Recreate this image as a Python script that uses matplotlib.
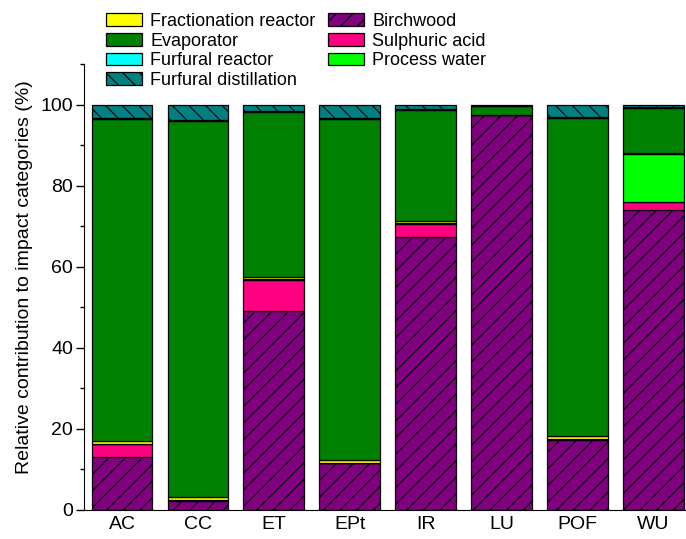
import numpy as np
import matplotlib
matplotlib.use("Agg")
import matplotlib.pyplot as plt
from matplotlib.ticker import MultipleLocator

# ----------------------------
# Daten (Anteile in %)
# ----------------------------
categories = ["AC", "CC", "ET", "EPt", "IR", "LU", "POF", "WU"]

birchwood = [13.0, 2.3, 49.0, 11.5, 67.4, 97.3, 17.2, 74.1]
sulphuric_acid = [3.2, 0.2, 7.8, 0.1, 3.2, 0.1, 0.3, 1.9]
process_water = [0.1, 0.0, 0.1, 0.0, 0.1, 0.0, 0.0, 11.9]
fractionation_reactor = [0.7, 0.8, 0.6, 0.7, 0.5, 0.1, 0.8, 0.2]
evaporator = [79.5, 92.7, 40.7, 84.2, 27.5, 2.1, 78.4, 11.1]
furfural_reactor = [0.2, 0.2, 0.2, 0.2, 0.2, 0.0, 0.2, 0.2]
furfural_distillation = [3.3, 3.8, 1.6, 3.3, 1.1, 0.4, 3.1, 0.6]

# Reihenfolge von unten nach oben
stack = [
    ("Birchwood", birchwood, "#800080", "//"),
    ("Sulphuric acid", sulphuric_acid, "#FF0080", None),
    ("Process water", process_water, "#00FF00", None),
    ("Fractionation reactor", fractionation_reactor, "#FFFF00", None),
    ("Evaporator", evaporator, "#008000", None),
    ("Furfural reactor", furfural_reactor, "#00FFFF", None),
    ("Furfural distillation", furfural_distillation, "#008080", "\\\\"),
]

plt.rcParams["font.family"] = ["Liberation Sans", "DejaVu Sans"]
plt.rcParams["hatch.linewidth"] = 0.8

fig = plt.figure(figsize=(6.86, 5.39), dpi=100)
ax = fig.add_axes([84 / 686, 29 / 539, 1 - 84 / 686, (510 - 64) / 539])

x = np.arange(len(categories))
bottom = np.zeros(len(categories))
handles = {}
for name, vals, color, hatch in stack:
    vals = np.array(vals)
    b = ax.bar(x, vals, width=0.8, bottom=bottom, color=color,
               edgecolor="black", linewidth=0.9, hatch=hatch, label=name)
    handles[name] = b
    bottom += vals

ax.set_xlim(-0.5, 7.43)
ax.set_ylim(0, 110)
ax.yaxis.set_major_locator(MultipleLocator(20))
ax.yaxis.set_minor_locator(MultipleLocator(10))
ax.set_xticks(x)
ax.set_xticklabels(categories)
ax.tick_params(axis="x", length=0, pad=4, labelsize=14)
ax.tick_params(axis="y", which="major", length=6, width=1, pad=2, labelsize=14)
ax.tick_params(axis="y", which="minor", length=3, width=1)
ax.spines["top"].set_visible(False)
ax.spines["right"].set_visible(False)
ax.set_ylabel("Relative contribution to impact categories (%)", fontsize=14)
ax.yaxis.set_label_coords(-0.085, 0.522)

# Legende in zwei Spalten
order = ["Fractionation reactor", "Evaporator", "Furfural reactor",
         "Furfural distillation", "Birchwood", "Sulphuric acid", "Process water"]
fig.legend([handles[n] for n in order], order, ncol=2, frameon=False,
           loc="upper left", bbox_to_anchor=(106 / 686, 1 - 13 / 539),
           fontsize=13, handlelength=2.0, handleheight=0.7,
           handletextpad=0.45, labelspacing=0.15, columnspacing=0.7,
           borderpad=0, borderaxespad=0)

fig.savefig("out.png", dpi=100)
